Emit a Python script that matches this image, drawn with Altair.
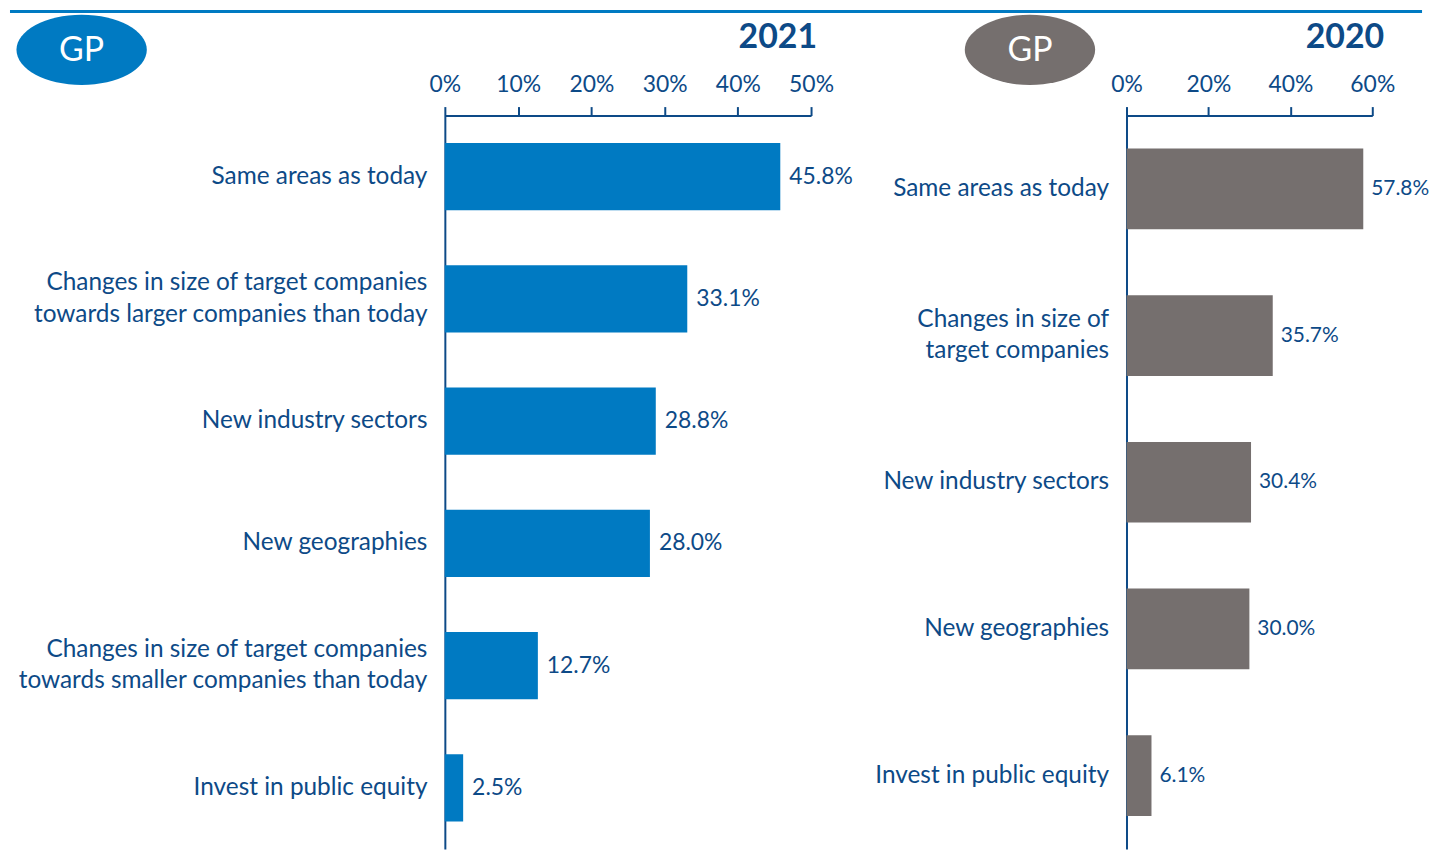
import altair as alt
import pandas as pd

# ---- data ----
cats_2021 = [
    "Same areas as today",
    "Changes in size of target companies|towards larger companies than today",
    "New industry sectors",
    "New geographies",
    "Changes in size of target companies|towards smaller companies than today",
    "Invest in public equity",
]
vals_2021 = [45.8, 33.1, 28.8, 28.0, 12.7, 2.5]
ticks_2021 = [0, 10, 20, 30, 40, 50]

cats_2020 = [
    "Same areas as today",
    "Changes in size of|target companies",
    "New industry sectors",
    "New geographies",
    "Invest in public equity",
]
vals_2020 = [57.8, 35.7, 30.4, 30.0, 6.1]
ticks_2020 = [0, 20, 40, 60]

NAVY = "#0D4A87"
BLUE = "#007AC2"
GREY = "#756F6E"
FONT = "Lato"
H = 737
ELL = "M-1,0A1,0.54 0 1,1 1,0A1,0.54 0 1,1 -1,0Z"


def panel(cats, vals, ticks, xmax, color, width, year, year_x, ell_x, ell_color,
          lx1, lx2, vfs, vdx):
    df = pd.DataFrame({"cat": cats, "val": vals, "lab": [f"{v:.1f}%" for v in vals]})
    ann = pd.DataFrame({"k": [0]})
    yscale = alt.Scale(paddingInner=0.45, paddingOuter=0.225)
    y = alt.Y(
        "cat:N", sort=cats, title=None, scale=yscale,
        axis=alt.Axis(
            labelExpr="split(datum.label, '|')", ticks=False, domain=True,
            domainColor=NAVY, domainWidth=2, labelPadding=18, labelFontSize=24.5,
            labelColor=NAVY, labelFont=FONT, labelLimit=700, labelLineHeight=32,
            labelOffset={"condition": {"test": "indexof(datum.value, '|') >= 0", "value": -16}, "value": 0},
        ),
    )
    x = alt.X(
        "val:Q", title=None, scale=alt.Scale(domain=[0, xmax], nice=False),
        axis=alt.Axis(
            orient="top", values=ticks, labelExpr="datum.value + '%'", grid=False,
            domainColor=NAVY, domainWidth=2, tickColor=NAVY, tickWidth=2, tickSize=9,
            labelPadding=10, labelFontSize=23, labelColor=NAVY, labelFont=FONT,
            labelFlush=False,
        ),
    )
    bars = alt.Chart(df).mark_bar(color=color).encode(y=y, x=x)
    texts = alt.Chart(df).mark_text(
        align="left", dx=vdx, fontSize=vfs, font=FONT, color=NAVY
    ).encode(y=alt.Y("cat:N", sort=cats), x="val:Q", text="lab:N")
    line = alt.Chart(ann).mark_rule(color=BLUE, strokeWidth=3).encode(
        x=alt.value(lx1), x2=alt.value(lx2), y=alt.value(-104.5)
    )
    ell = alt.Chart(ann).mark_point(
        shape=ELL, size=131 ** 2, filled=True, color=ell_color, opacity=1
    ).encode(x=alt.value(ell_x), y=alt.value(-66))
    gp = alt.Chart(ann).mark_text(
        text="GP", fontSize=34, font=FONT, color="white"
    ).encode(x=alt.value(ell_x), y=alt.value(-65))
    yr = alt.Chart(ann).mark_text(
        text=year, fontSize=34, fontWeight="bold", font=FONT, color=NAVY,
        align="right", baseline="alphabetic",
    ).encode(x=alt.value(year_x), y=alt.value(-68))
    return alt.layer(line, ell, gp, yr, bars, texts).properties(width=width, height=H)


left = panel(cats_2021, vals_2021, ticks_2021, 50, BLUE, 368, "2021", 374, -365, BLUE,
             -437, 427, 23, 9)
right = panel(cats_2020, vals_2020, ticks_2020, 60, GREY, 247, "2020", 259, -97, GREY,
              -264, 297, 21, 8)

chart = alt.hconcat(left, right, spacing=-10).properties(padding=0).configure_view(stroke=None)
chart.save("out.html", embed_options={"renderer": "svg", "actions": False})
